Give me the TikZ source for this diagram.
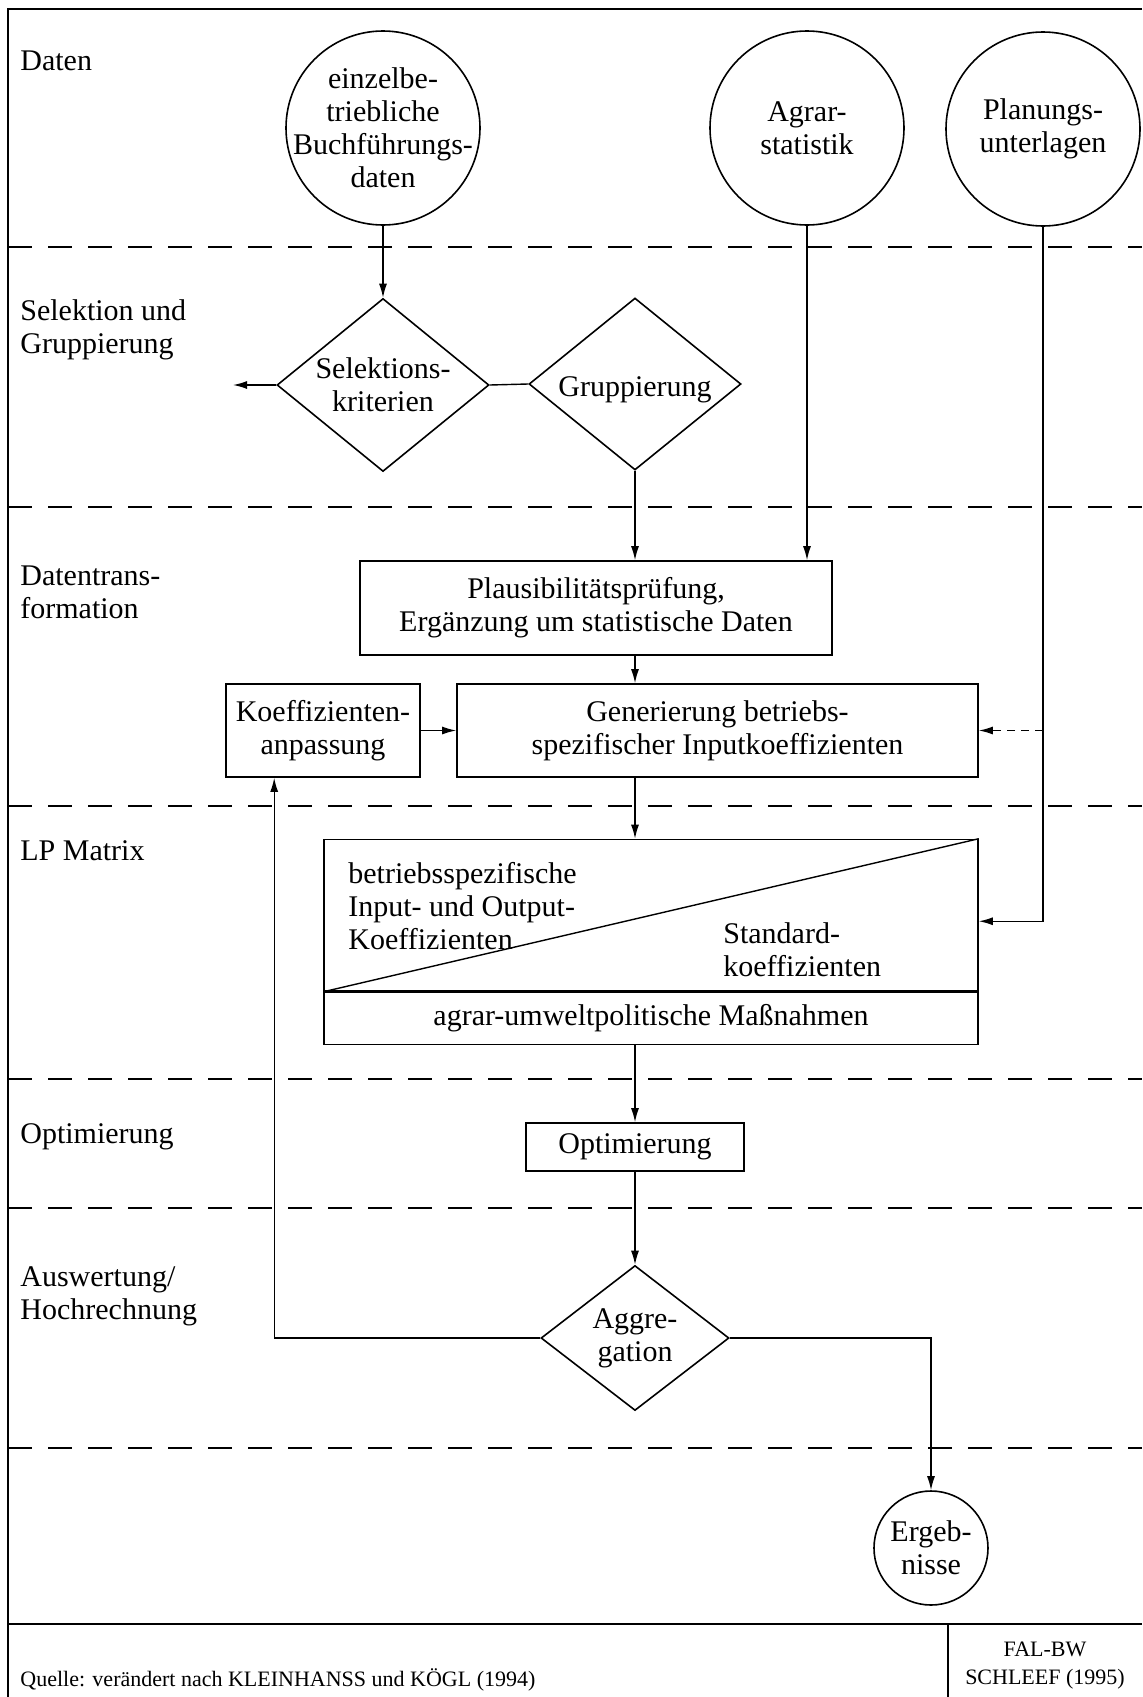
\documentclass[tikz,border=0pt]{standalone}
\usepackage{fontspec}
\setmainfont{Liberation Serif}
\usetikzlibrary{shapes.geometric,arrows.meta}
\begin{document}
\begin{tikzpicture}[x=0.5pt,y=-0.5pt,
  every node/.style={font=\fontsize{15}{16.5}\selectfont, inner sep=0pt},
  conn/.style={line width=0.7pt},
  arr/.style={conn,-{Latex[length=7pt,width=4pt]}},
  sep/.style={line width=1pt, dash pattern=on 12pt off 8pt},
  frame/.style={line width=1pt},
  box/.style={draw, line width=0.8pt, rectangle, align=center},
  datacirc/.style={draw, circle, line width=0.8pt, minimum size=97pt, align=center},
  dec/.style={draw, diamond, line width=0.8pt, align=center, aspect=1.22},
  lane/.style={anchor=west, align=left},
  foot/.style={font=\fontsize{11}{14}\selectfont},
]
\useasboundingbox (0,0) rectangle (1142,1697);
% frame
\draw[frame] (1142,9) -- (8,9) -- (8,1697);
\draw[frame] (8,1624) -- (1142,1624);
\draw[frame] (948,1624) -- (948,1697);
\foreach \yy in {247,507,806,1079,1208,1448} \draw[sep] (8,\yy) -- (1142,\yy);

% lane labels
\node[lane] (l1) at (20,61) {Daten};
\node[lane] (l2) at (20,330) {Selektion und\\Gruppierung};
\node[lane] (l3) at (20,592) {Datentrans-\\formation};
\node[lane] (l4) at (20,851) {LP Matrix};
\node[lane] (l5) at (20,1137) {Optimierung};
\node[lane] (l6) at (20,1296) {Auswertung/\\Hochrechnung};

% data sources
\node[datacirc, label={[align=center]center:{einzelbe-\\triebliche\\Buchführungs-\\daten}}] (c1) at (383,128) {};
\node[datacirc, label={[align=center]center:{Agrar-\\statistik}}] (c2) at (807,128) {};
\node[datacirc, label={[align=center]center:{Planungs-\\unterlagen}}] (c3) at (1043,129) {};

% selection
\node[dec, inner sep=-1pt, minimum width=106pt, minimum height=86.5pt] (d1) at (383,385) {Selektions-\\kriterien};
\node[dec, text height=16pt, minimum width=106pt, minimum height=86pt] (d2) at (635,384) {Gruppierung};
\coordinate (selout) at (233,385);

% transformation
\node[box, minimum width=235.75pt, minimum height=47pt] (plaus) at (596,608) {Plausibilitätsprüfung,\\Ergänzung um statistische Daten};
\node[box, minimum width=97pt, minimum height=46.5pt] (koeff) at (323,730.5) {Koeffizienten-\\anpassung};
\node[box, minimum width=260.5pt, minimum height=46.5pt] (gen) at (717.5,730.5) {Generierung betriebs-\\spezifischer Inputkoeffizienten};

% LP matrix
\node[box, minimum width=327pt, minimum height=75.75pt] (lpup) at (651,915.25) {};
\node[box, minimum width=327pt, minimum height=26pt, anchor=north] (lplow) at (lpup.south) {agrar-umweltpolitische Maßnahmen};
\draw[conn] (lpup.south west) -- (lpup.north east);
\node[lane] (lptxt1) at (348,906) {betriebsspezifische\\Input- und Output-\\Koeffizienten};
\node[lane] (lptxt2) at (723,950) {Standard-\\koeffizienten};

% optimisation and evaluation
\node[box, minimum width=109pt, minimum height=24pt] (opt) at (635,1147) {Optimierung};
\node[dec, aspect=1.3, minimum width=94pt, minimum height=72.5pt] (agg) at (635,1338) {Aggre-\\gation};
\node[datacirc, minimum size=57pt] (erg) at (931,1548) {Ergeb-\\nisse};

% footer
\node[foot, anchor=west] (src) at (20,1680) {Quelle: verändert nach KLEINHANSS und KÖGL (1994)};
\node[foot, align=center] (auth) at (1045,1666) {FAL-BW\\SCHLEEF (1995)};

% connectors
\draw[arr] (c1.south) -- (d1.north);
\draw[arr] (d1.west) -- (selout);
\draw[conn] (d1.east) -- (d2.west);
\draw[arr] (d2.south) -- (d2.south |- plaus.north);
\draw[arr] (c2.south) -- (c2.south |- plaus.north);
\draw[arr] (plaus.south -| d2.south) -- (gen.north -| d2.south);
\draw[arr] (koeff.east) -- (gen.west);
\draw[arr] (c3.south) |- ([yshift=-3pt]lpup.east);
\draw[arr, dash pattern=on 4pt off 3pt] (c3.south |- gen.east) -- (gen.east);
\draw[arr] (gen.south -| d2.south) -- (lpup.north -| d2.south);
\draw[arr] (lplow.south -| d2.south) -- (opt.north);
\draw[arr] (opt.south) -- (agg.north);
\draw[arr] (agg.west) -| ([xshift=24.5pt]koeff.south west);
\draw[arr] (agg.east) -| (erg.north);
\end{tikzpicture}
\end{document}
